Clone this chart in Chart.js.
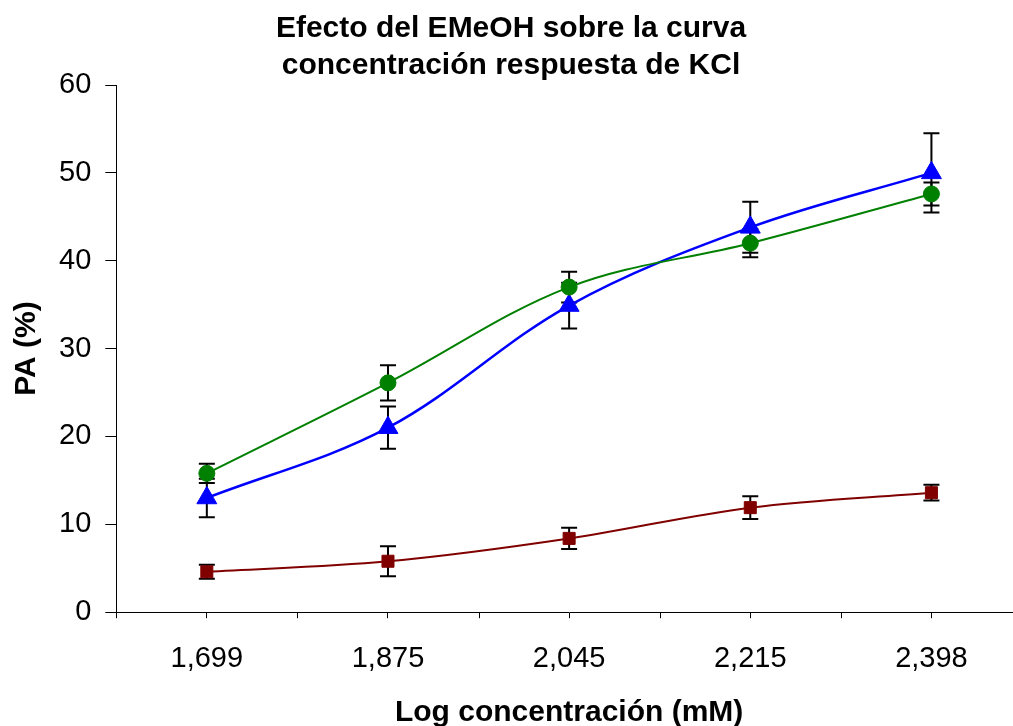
<!DOCTYPE html>
<html>
<head>
<meta charset="utf-8">
<script src="https://cdn.jsdelivr.net/npm/chart.js@4.4.0/dist/chart.umd.min.js"></script>
<style>
  html, body { margin: 0; padding: 0; background: #fff; overflow: hidden; }
  #wrap { width: 1100px; height: 741px; }
</style>
</head>
<body>
<div id="wrap"><canvas id="chart" width="1100" height="741"></canvas></div>
<script>
const categories = ["1,699", "1,875", "2,045", "2,215", "2,398"];

const kclEmeoh = [15.8, 26.1, 37.0, 42.0, 47.6];
const kclEmeohErr = [1.1, 2.0, 1.75, 1.6, 1.3];

const kclControl = [13.0, 21.0, 34.9, 43.8, 50.0];
const kclControlErr = [2.2, 2.4, 2.6, 2.9, 4.5];

const kclLow = [4.6, 5.8, 8.4, 11.9, 13.6];
const kclLowErr = [0.8, 1.7, 1.2, 1.3, 0.9];

const yTicks = [0, 10, 20, 30, 40, 50, 60];

const FONT = "'Liberation Sans', Arial, sans-serif";

// vertical error bars with caps, drawn under the markers
const errorBars = {
    id: "errorBars",
    beforeDatasetsDraw(chart) {
        const ctx = chart.ctx;
        const y = chart.scales.y;
        ctx.save();
        ctx.strokeStyle = "#000";
        ctx.lineWidth = 2;
        chart.data.datasets.forEach((ds, i) => {
            const meta = chart.getDatasetMeta(i);
            meta.data.forEach((pt, j) => {
                const err = ds.errors[j];
                const top = y.getPixelForValue(ds.data[j] + err);
                const bot = y.getPixelForValue(ds.data[j] - err);
                ctx.beginPath();
                ctx.moveTo(pt.x, top);
                ctx.lineTo(pt.x, bot);
                ctx.moveTo(pt.x - 8, top);
                ctx.lineTo(pt.x + 8, top);
                ctx.moveTo(pt.x - 8, bot);
                ctx.lineTo(pt.x + 8, bot);
                ctx.stroke();
            });
        });
        ctx.restore();
    },
};

// extra tick marks on the x axis between categories
const boundaryTicks = {
    id: "boundaryTicks",
    afterDraw(chart) {
        const x = chart.scales.x;
        const ctx = chart.ctx;
        const n = categories.length;
        ctx.save();
        ctx.strokeStyle = "#000";
        ctx.lineWidth = 1;
        ctx.beginPath();
        for (let i = 0; i <= n; i++) {
            const px = Math.round(x.getPixelForValue(i - 0.5)) + 0.5;
            ctx.moveTo(px, x.top);
            ctx.lineTo(px, x.top + 6);
        }
        ctx.stroke();
        ctx.restore();
    },
};

const series = (label, data, errors, color, style, radius, width) => ({
    label,
    data,
    errors,
    borderColor: color,
    backgroundColor: color,
    borderWidth: width,
    pointStyle: style,
    pointRadius: radius,
    pointHoverRadius: radius,
    pointBorderWidth: 1,
    tension: 0.35,
    fill: false,
});

new Chart(document.getElementById("chart"), {
    type: "line",
    data: {
        labels: categories,
        datasets: [
            series("EMeOH", kclEmeoh, kclEmeohErr, "#008000", "circle", 8, 2),
            series("Control", kclControl, kclControlErr, "#0000ff", "triangle", 11.5, 2.5),
            series("KCl", kclLow, kclLowErr, "#800000", "rect", 8.5, 2),
        ],
    },
    options: {
        responsive: false,
        animation: false,
        layout: { padding: { left: 0, right: 78, top: 0, bottom: 0 } },
        plugins: {
            legend: { display: false },
            tooltip: { enabled: false },
            title: {
                display: true,
                text: ["Efecto del EMeOH sobre la curva", "concentración respuesta de KCl"],
                color: "#000",
                font: { family: FONT, size: 30, weight: "bold", lineHeight: 37 / 30 },
                padding: { top: 10, bottom: 1 },
            },
        },
        scales: {
            x: {
                offset: true,
                border: { color: "#000", width: 1 },
                grid: { display: true, offset: false, drawOnChartArea: false, tickLength: 6, color: "#000" },
                ticks: { color: "#000", padding: 23, maxRotation: 0, font: { family: FONT, size: 29 } },
                title: {
                    display: true,
                    text: "Log concentración (mM)",
                    color: "#000",
                    font: { family: FONT, size: 30, weight: "bold", lineHeight: 0.8 },
                    padding: { top: 2, bottom: 16 },
                },
            },
            y: {
                min: 0,
                max: 60,
                afterBuildTicks(scale) {
                    scale.ticks = yTicks.map((v) => ({ value: v }));
                },
                border: { color: "#000", width: 1 },
                grid: { drawOnChartArea: false, tickLength: 11, color: "#000" },
                ticks: { color: "#000", padding: 14, font: { family: FONT, size: 29 } },
                title: {
                    display: true,
                    text: "PA (%)",
                    color: "#000",
                    font: { family: FONT, size: 30, weight: "bold", lineHeight: 1.2 },
                    padding: { top: 9, bottom: 0 },
                },
            },
        },
    },
    plugins: [errorBars, boundaryTicks],
});
</script>
</body>
</html>
